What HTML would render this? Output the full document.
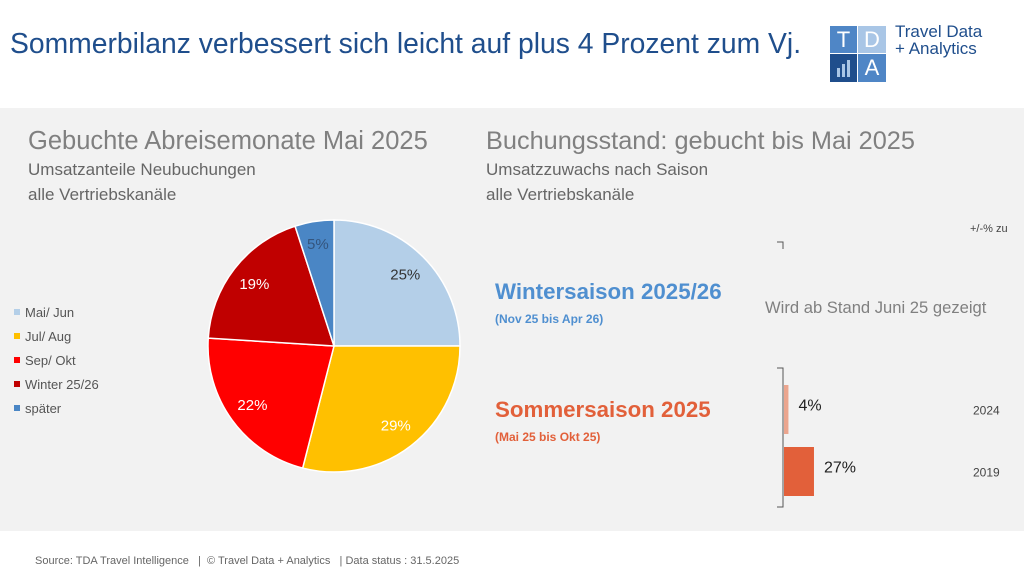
<!DOCTYPE html>
<html><head><meta charset="utf-8"><style>
body{margin:0;width:1024px;height:576px;position:relative;overflow:hidden;background:#fff;font-family:"Liberation Sans",sans-serif}
.a{position:absolute;white-space:nowrap}
</style></head><body>
<div class="a" style="left:10px;top:27px;font-size:28.3px;color:#1f4e8c">Sommerbilanz verbessert sich leicht auf plus 4 Prozent zum Vj.</div>
<div class="a" style="left:830px;top:26px;width:56px;height:56px">
 <div class="a" style="left:0;top:0;width:27px;height:27px;background:#4f86c6;color:#fff;font-size:22px;text-align:center;line-height:27px">T</div>
 <div class="a" style="left:28px;top:0;width:28px;height:27px;background:#a9c6e6;color:#fff;font-size:22px;text-align:center;line-height:27px">D</div>
 <div class="a" style="left:0;top:28px;width:27px;height:28px;background:#1f4e8c"><svg width="27" height="28"><rect x="7" y="14" width="3" height="9" fill="#a9c6e6"/><rect x="12" y="10" width="3" height="13" fill="#a9c6e6"/><rect x="17" y="6" width="3" height="17" fill="#a9c6e6"/></svg></div>
 <div class="a" style="left:28px;top:28px;width:28px;height:28px;background:#4f86c6;color:#fff;font-size:22px;text-align:center;line-height:28px">A</div>
</div>
<div class="a" style="left:895px;top:23px;font-size:17px;line-height:17px;color:#1f4e8c">Travel Data<br>+ Analytics</div>
<div class="a" style="left:0;top:108px;width:1024px;height:423px;background:#f2f2f2"></div>
<div class="a" style="left:28px;top:127px;font-size:25.5px;color:#808080">Gebuchte Abreisemonate Mai 2025</div>
<div class="a" style="left:28px;top:157px;font-size:17px;line-height:25px;color:#666">Umsatzanteile Neubuchungen<br>alle Vertriebskanäle</div>
<div class="a" style="left:486px;top:127px;font-size:25.3px;color:#808080">Buchungsstand: gebucht bis Mai 2025</div>
<div class="a" style="left:486px;top:157px;font-size:17px;line-height:25px;color:#666">Umsatzzuwachs nach Saison<br>alle Vertriebskanäle</div>
<div class="a" style="left:495px;top:279px;font-size:22.3px;font-weight:bold;color:#4f8fd0">Wintersaison 2025/26</div>
<div class="a" style="left:495px;top:312px;font-size:12px;font-weight:bold;color:#4f8fd0">(Nov 25 bis Apr 26)</div>
<div class="a" style="left:495px;top:397px;font-size:22.3px;font-weight:bold;color:#e2603a">Sommersaison 2025</div>
<div class="a" style="left:495px;top:430px;font-size:12px;font-weight:bold;color:#e2603a">(Mai 25 bis Okt 25)</div>
<div class="a" style="left:765px;top:298px;font-size:16.6px;color:#808080">Wird ab Stand Juni 25 gezeigt</div>
<div class="a" style="left:970px;top:223px;font-size:11px;color:#444">+/-% zu</div>
<div class="a" style="left:35px;top:555px;font-size:11px;color:#666">Source: TDA Travel Intelligence &nbsp;&nbsp;| &nbsp;© Travel Data + Analytics &nbsp;&nbsp;| Data status : 31.5.2025</div>
<svg class="a" style="left:0;top:0" width="1024" height="576" id="chart"></svg>
<script>
const pieLabels=["Mai/ Jun","Jul/ Aug","Sep/ Okt","Winter 25/26","später"];
const pieValues=[25,29,22,19,5];
const pieColors=["#b4cfe8","#ffc000","#ff0000","#c00000","#4a86c5"];
const barYears=["2024","2019"];
const barValues=[4,27];
const barColors=["#eba58e","#e2603a"];
const labelColors=["#333","#fff","#fff","#fff","#34557e"];
const NS="http://www.w3.org/2000/svg",svg=document.getElementById('chart');
function mk(t,a){const e=document.createElementNS(NS,t);for(const k in a)e.setAttribute(k,a[k]);svg.appendChild(e);return e;}
const cx=334,cy=346,r=126,tot=pieValues.reduce((a,b)=>a+b,0);
let ang=0;
pieValues.forEach((v,i)=>{
 const a0=ang/tot*2*Math.PI,a1=(ang+v)/tot*2*Math.PI;ang+=v;
 const x0=cx+r*Math.sin(a0),y0=cy-r*Math.cos(a0),x1=cx+r*Math.sin(a1),y1=cy-r*Math.cos(a1);
 const p=mk('path',{d:`M${cx},${cy}L${x0},${y0}A${r},${r} 0 ${a1-a0>Math.PI?1:0} 1 ${x1},${y1}Z`,fill:pieColors[i],stroke:'#fff','stroke-width':1.5});
 
 
 const am=(a0+a1)/2,lr=r*(v<8?0.82:0.8);
 const t=mk('text',{x:cx+lr*Math.sin(am),y:cy-lr*Math.cos(am)+5,'text-anchor':'middle','font-size':15,fill:labelColors[i]});
 t.textContent=v+'%';
 
 
 const ly=313+i*24;
 const s=mk('rect',{x:14,y:ly-4,width:6,height:6,fill:pieColors[i]});
 
 
 const lt=mk('text',{x:25,y:ly+4,'font-size':13,fill:'#555'});
 lt.textContent=pieLabels[i];
 
 
});
const ax=783,sc=1.11,bTop=[385,447],bH=49;
const axl=mk('path',{d:`M777,368H${ax}V507H777`,stroke:'#555',fill:'none','stroke-width':1});


const tk=mk('path',{d:'M777,242H783V249',stroke:'#555',fill:'none'});


barValues.forEach((v,i)=>{
 const w=v*sc;
 const b=mk('rect',{x:ax+1,y:bTop[i],width:w,height:bH,fill:barColors[i]});
 
 
 const t=mk('text',{x:ax+1+w+10,y:bTop[i]+bH/2+1,'font-size':16,fill:'#222'});
 t.textContent=v+'%';
 
 
 const y=mk('text',{x:973,y:bTop[i]+bH/2+5,'font-size':12,fill:'#444'});
 y.textContent=barYears[i];
 
 
});
</script>
</body></html>
